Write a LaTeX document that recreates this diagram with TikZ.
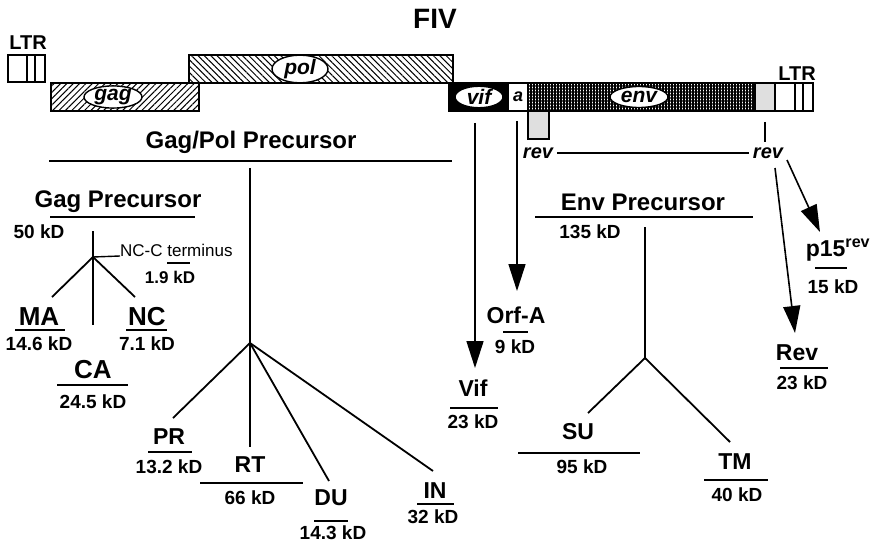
\documentclass[tikz,border=0pt]{standalone}
\usepackage{fontspec}
\setmainfont{Liberation Sans}
\usepackage{tikz}
\usetikzlibrary{shapes.geometric,arrows,arrows.meta,positioning,patterns.meta}

\begin{document}
\begin{tikzpicture}[x=1pt, y=-1pt, every node/.style={inner sep=0pt}]
\tikzstyle{gene} = [draw=black, line width=1.4pt]
\tikzstyle{tag} = [ellipse, draw=black, fill=white, line width=1.4pt, inner sep=0pt, minimum height=21pt, font=\bfseries\itshape\fontsize{21}{23}\selectfont]
\tikzstyle{title} = [font=\bfseries\fontsize{28}{30}\selectfont]
\tikzstyle{ltr} = [font=\bfseries\fontsize{20}{22}\selectfont]
\tikzstyle{revlab} = [font=\bfseries\itshape\fontsize{20}{22}\selectfont, inner sep=4pt]
\tikzstyle{head} = [font=\bfseries\fontsize{24}{26}\selectfont]
\tikzstyle{prot} = [font=\bfseries\fontsize{23}{25}\selectfont]
\tikzstyle{bigprot} = [font=\bfseries\fontsize{26}{28}\selectfont]
\tikzstyle{mass} = [font=\bfseries\fontsize{19}{21}\selectfont]
\tikzstyle{note} = [font=\fontsize{17}{19}\selectfont]
\tikzstyle{rule} = [line width=2pt]
\tikzstyle{branch} = [line width=1.8pt]
\tikzstyle{arrow} = [line width=1.6pt, -{Triangle[length=27pt,width=17pt]}]

\useasboundingbox (0,0) rectangle (874,545);

% genome
\draw[gene] (8,55) rectangle (45,82);
\draw[gene] (27,55) -- (27,82) (35,55) -- (35,82);
\draw[gene, pattern={Lines[angle=45,distance=4.5pt,line width=1pt]}] (51,83) rectangle (199,111);
\draw[gene, pattern={Lines[angle=-45,distance=4.5pt,line width=1pt]}] (189,55) rectangle (453,83);
\draw[gene, fill=black] (449,83) rectangle (508,111);
\draw[gene, fill=white] (508,83) rectangle (528,111);
\draw[gene, pattern={Hatch[distance=3pt,line width=1.1pt]}] (528,83) rectangle (755,111);
\draw[gene, fill=gray!25] (755,83) rectangle (775,111);
\draw[gene] (775,83) rectangle (813,111);
\draw[gene] (795,83) -- (795,111) (803,83) -- (803,111);
\draw[gene, fill=gray!25] (528,111) rectangle (549,139);

\node (fiv) [title] at (435,19) {FIV};
\node (ltrleft) [ltr] at (28,43) {LTR};
\node (ltrright) [ltr] at (797,74) {LTR};
\node (gag) [tag, minimum width=58pt] at (113,97) {gag};
\node (pol) [tag, minimum width=56pt] at (300,69) {pol};
\node (vif) [tag, minimum width=48pt] at (479,97) {vif};
\node (orfa) [font=\bfseries\itshape\fontsize{18}{20}\selectfont] at (518,97) {a};
\node (env) [tag, minimum width=58pt] at (639,97) {env};

% rev exons
\node (revleft) [revlab] at (538,153) {rev};
\node (revright) [revlab] at (768,153) {rev};
\coordinate (revtick) at (765,122);
\coordinate (revtickend) at (765,142);
\draw[branch] (revleft) -- (revright);
\draw[branch] (revtick) -- (revtickend);

% Gag/Pol precursor
\node (gagpol) [head] at (251,142) {Gag/Pol Precursor};
\draw[rule] (49,161) -- (452,161);
\coordinate (gptop) at (250,168);
\coordinate (gpbranch) at (250,343);
\coordinate (prend) at (173,418);
\coordinate (rtend) at (250,447);
\coordinate (duend) at (329,481);
\coordinate (inend) at (433,471);
\draw[branch] (gptop) -- (gpbranch);
\draw[branch] (gpbranch) -- (prend);
\draw[branch] (gpbranch) -- (rtend);
\draw[branch] (gpbranch) -- (duend);
\draw[branch] (gpbranch) -- (inend);

\node (pr) [prot] at (169,437) {PR};
\draw[branch] (148,452) -- (192,452);
\node (prmass) [mass] at (169,467) {13.2 kD};
\node (rt) [prot] at (250,465) {RT};
\draw[branch] (200,483) -- (303,483);
\node (rtmass) [mass] at (250,498) {66 kD};
\node (du) [prot] at (331,498) {DU};
\draw[branch] (314,521) -- (348,521);
\node (dumass) [mass] at (333,533) {14.3 kD};
\node (in) [prot] at (435,491) {IN};
\draw[branch] (417,504) -- (454,504);
\node (inmass) [mass] at (433,517) {32 kD};

% Gag precursor
\node (gagpre) [head] at (118,202) {Gag Precursor};
\draw[branch] (50,217) -- (195,217);
\node (gagmass) [mass] at (39,232) {50 kD};
\coordinate (gagtop) at (93,231);
\coordinate (gagbranch) at (93,257);
\coordinate (gagbot) at (93,325);
\coordinate (maend) at (52,297);
\coordinate (ncend) at (135,297);
\node (ncc) [note, anchor=base west] at (120,256) {NC-C terminus};
\draw[branch] (gagtop) -- (gagbot);
\draw[branch] (gagbranch) -- (maend);
\draw[branch] (gagbranch) -- (ncend);
\draw[line width=1.4pt] (gagbranch) -- (ncc.base west);
\draw[line width=1.4pt] (167,263) -- (190,263);
\node (nccmass) [mass, font=\bfseries\fontsize{17}{19}\selectfont] at (170,277) {1.9 kD};

\node (ma) [bigprot] at (39,317) {MA};
\draw[branch] (15,330) -- (65,330);
\node (mamass) [mass] at (39,344) {14.6 kD};
\node (nc) [bigprot] at (147,317) {NC};
\draw[branch] (126,330) -- (167,330);
\node (ncmass) [mass] at (147,344) {7.1 kD};
\node (ca) [bigprot] at (93,370) {CA};
\draw[branch] (57,385) -- (128,385);
\node (camass) [mass] at (93,402) {24.5 kD};

% Vif and Orf-A
\coordinate (vifsrc) at (475,123);
\coordinate (viftip) at (475,368);
\draw[arrow] (vifsrc) -- (viftip);
\node (vifp) [prot] at (473,388) {Vif};
\draw[branch] (450,408) -- (498,408);
\node (vifmass) [mass] at (473,422) {23 kD};

\coordinate (orfasrc) at (517,121);
\coordinate (orfatip) at (517,291);
\draw[arrow] (orfasrc) -- (orfatip);
\node (orfap) [prot] at (516,315) {Orf-A};
\draw[branch] (503,332) -- (528,332);
\node (orfamass) [mass] at (515,347) {9 kD};

% Env precursor
\node (envpre) [head] at (643,202) {Env Precursor};
\draw[rule] (535,217) -- (753,217);
\node (envmass) [mass] at (590,232) {135 kD};
\coordinate (envtop) at (645,227);
\coordinate (envbranch) at (645,358);
\coordinate (suend) at (588,413);
\coordinate (tmend) at (730,442);
\draw[branch] (envtop) -- (envbranch);
\draw[branch] (envbranch) -- (suend);
\draw[branch] (envbranch) -- (tmend);
\node (su) [prot] at (578,432) {SU};
\draw[branch] (518,453) -- (640,453);
\node (sumass) [mass] at (582,467) {95 kD};
\node (tm) [prot] at (735,462) {TM};
\draw[branch] (704,480) -- (768,480);
\node (tmmass) [mass] at (737,495) {40 kD};

% Rev products
\coordinate (p15src) at (787,160);
\coordinate (p15tip) at (820,232);
\coordinate (revsrc) at (775,168);
\coordinate (revtip) at (795,333);
\draw[arrow] (p15src) -- (p15tip);
\draw[arrow] (revsrc) -- (revtip);
\node (p15) [prot] at (838,250) {p15\textsuperscript{rev}};
\draw[branch] (815,268) -- (847,268);
\node (p15mass) [mass] at (833,287) {15 kD};
\node (revp) [prot] at (797,353) {Rev};
\draw[branch] (780,368) -- (828,368);
\node (revmass) [mass] at (802,383) {23 kD};
\end{tikzpicture}
\end{document}
